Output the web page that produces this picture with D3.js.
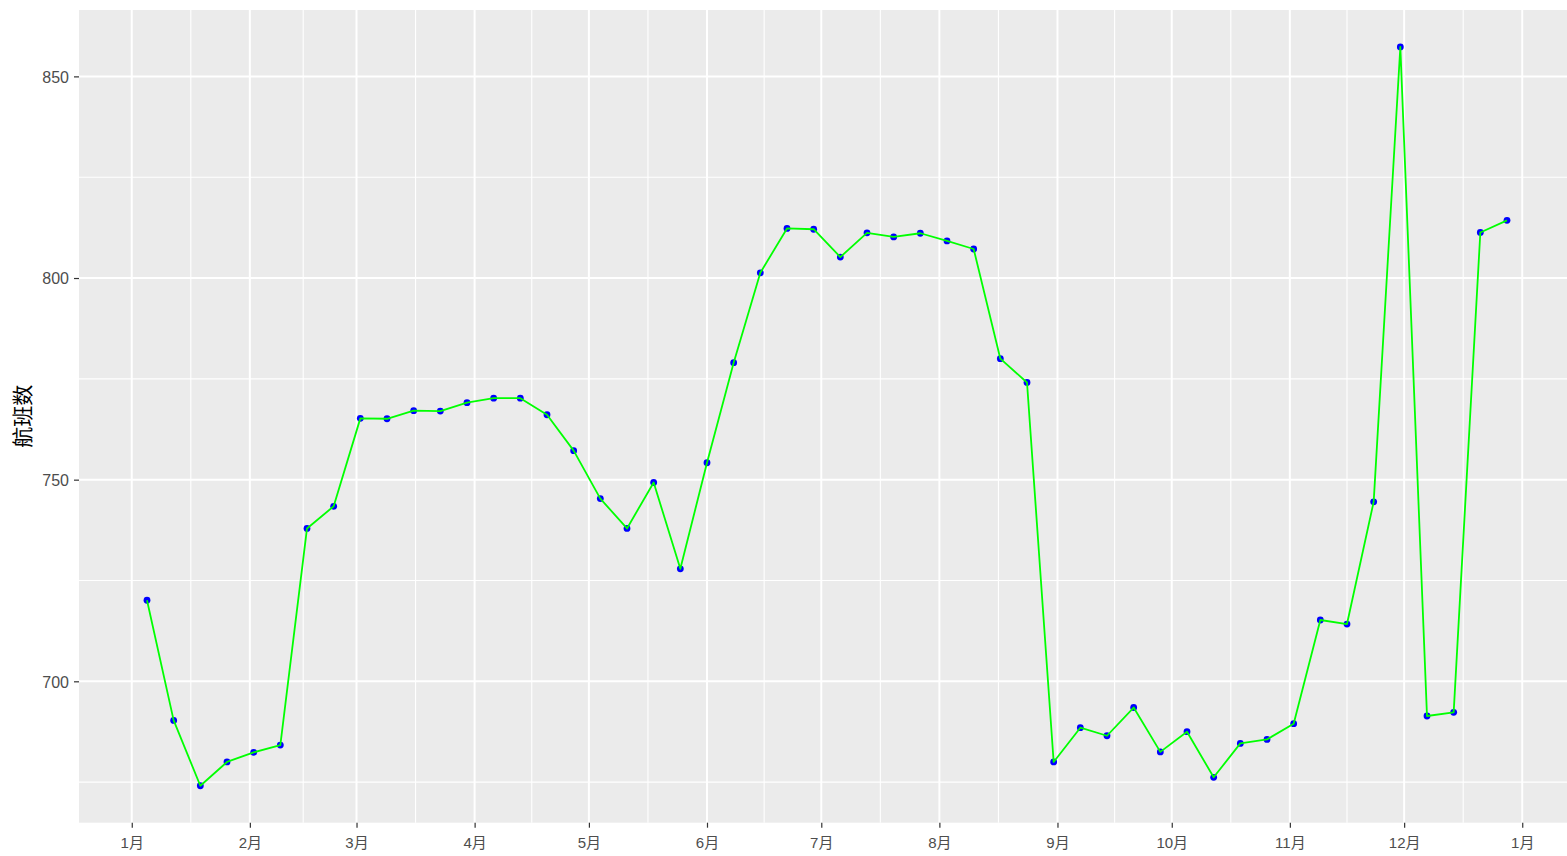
<!DOCTYPE html>
<html>
<head>
<meta charset="utf-8">
<script src="https://cdn.jsdelivr.net/npm/d3@7"></script>
<style>
  html, body { margin: 0; padding: 0; background: #ffffff; overflow: hidden; }
  svg { display: block; }
  .tick-label { font-family: "Liberation Sans", "Noto Sans CJK SC", sans-serif; fill: #4D4D4D; }
</style>
</head>
<body>
<svg id="chart" width="1567" height="856"></svg>
<script>
// Weekly flight counts (航班数), one point per week
const weeks = [
  "2019-01-05","2019-01-12","2019-01-19","2019-01-26","2019-02-02","2019-02-09","2019-02-16","2019-02-23",
  "2019-03-02","2019-03-09","2019-03-16","2019-03-23","2019-03-30","2019-04-06","2019-04-13","2019-04-20",
  "2019-04-27","2019-05-04","2019-05-11","2019-05-18","2019-05-25","2019-06-01","2019-06-08","2019-06-15",
  "2019-06-22","2019-06-29","2019-07-06","2019-07-13","2019-07-20","2019-07-27","2019-08-03","2019-08-10",
  "2019-08-17","2019-08-24","2019-08-31","2019-09-07","2019-09-14","2019-09-21","2019-09-28","2019-10-05",
  "2019-10-12","2019-10-19","2019-10-26","2019-11-02","2019-11-09","2019-11-16","2019-11-23","2019-11-30",
  "2019-12-07","2019-12-14","2019-12-21","2019-12-28"
];
const flights = [
  720.1, 690.3, 674.1, 680.0, 682.4, 684.2, 737.9, 743.4,
  765.2, 765.1, 767.1, 767.0, 769.1, 770.2, 770.2, 766.1,
  757.2, 745.3, 737.9, 749.3, 727.9, 754.2, 779.0, 801.3,
  812.3, 812.1, 805.2, 811.2, 810.2, 811.1, 809.2, 807.2,
  780.0, 774.1, 680.0, 688.5, 686.5, 693.5, 682.5, 687.5,
  676.2, 684.6, 685.6, 689.5, 715.2, 714.2, 744.5, 857.3,
  691.4, 692.3, 811.3, 814.3
];
// Month breaks on the x axis and their labels
const monthBreaks = [
  "2019-01-01","2019-02-01","2019-03-01","2019-04-01","2019-05-01","2019-06-01","2019-07-01",
  "2019-08-01","2019-09-01","2019-10-01","2019-11-01","2019-12-01","2020-01-01"
];
const monthLabels = ["1月","2月","3月","4月","5月","6月","7月","8月","9月","10月","11月","12月","1月"];
const yBreaks = [700, 750, 800, 850];
const yMinorBreaks = [675, 725, 775, 825];
const yTitle = "航班数";

const parse = d3.timeParse("%Y-%m-%d");
const data = weeks.map((w, i) => ({ date: parse(w), value: flights[i] }));
const majorDates = monthBreaks.map(parse);
// minor breaks sit halfway between consecutive month breaks
const minorDates = d3.pairs(majorDates).map(([a, b]) => new Date((+a + +b) / 2));

const panel = { left: 79, top: 10, right: 1575, bottom: 822.7 };

// continuous scales padded by 5% of the data range on each side
function expand(ext) {
  const pad = (ext[1] - ext[0]) * 0.05;
  return [ext[0] - pad, ext[1] + pad];
}
const xExt = d3.extent(data, d => +d.date);
const xDom = expand(xExt).map(t => new Date(t));
const x = d3.scaleTime().domain(xDom).range([panel.left, panel.right]);
const y = d3.scaleLinear().domain(expand(d3.extent(flights))).range([panel.bottom, panel.top]);

const svg = d3.select("#chart");

// panel background
svg.append("rect")
  .attr("x", panel.left).attr("y", panel.top)
  .attr("width", panel.right - panel.left).attr("height", panel.bottom - panel.top)
  .attr("fill", "#EBEBEB");

const grid = svg.append("g");
// minor grid
grid.selectAll(".ymin").data(yMinorBreaks).join("line")
  .attr("x1", panel.left).attr("x2", panel.right)
  .attr("y1", d => y(d)).attr("y2", d => y(d))
  .attr("stroke", "#FFFFFF").attr("stroke-width", 1.1);
grid.selectAll(".xmin").data(minorDates).join("line")
  .attr("x1", d => x(d)).attr("x2", d => x(d))
  .attr("y1", panel.top).attr("y2", panel.bottom)
  .attr("stroke", "#FFFFFF").attr("stroke-width", 1.1);
// major grid
grid.selectAll(".ymaj").data(yBreaks).join("line")
  .attr("x1", panel.left).attr("x2", panel.right)
  .attr("y1", d => y(d)).attr("y2", d => y(d))
  .attr("stroke", "#FFFFFF").attr("stroke-width", 2);
grid.selectAll(".xmaj").data(majorDates).join("line")
  .attr("x1", d => x(d)).attr("x2", d => x(d))
  .attr("y1", panel.top).attr("y2", panel.bottom)
  .attr("stroke", "#FFFFFF").attr("stroke-width", 2);

// points, then the connecting line on top
svg.append("g").selectAll("circle").data(data).join("circle")
  .attr("cx", d => x(d.date)).attr("cy", d => y(d.value))
  .attr("r", 3.4).attr("fill", "#0000FF");

svg.append("path").datum(data)
  .attr("d", d3.line().x(d => x(d.date)).y(d => y(d.value)))
  .attr("fill", "none").attr("stroke", "#00FF00").attr("stroke-width", 1.8)
  .attr("stroke-linejoin", "round");

// y axis
const yAxis = d3.axisLeft(y).tickValues(yBreaks).tickSize(5).tickPadding(5).tickFormat(d3.format("d"));
const gy = svg.append("g").attr("transform", `translate(${panel.left},0)`).call(yAxis);
gy.select(".domain").remove();
gy.selectAll(".tick line").attr("stroke", "#333333").attr("stroke-width", 1.2);
gy.selectAll(".tick text").attr("class", "tick-label").attr("font-size", 16).attr("dy", "0.36em");

// x axis
const xAxis = d3.axisBottom(x).tickValues(majorDates).tickSize(5).tickPadding(10)
  .tickFormat((d, i) => monthLabels[i]);
const gx = svg.append("g").attr("transform", `translate(0,${panel.bottom})`).call(xAxis);
gx.select(".domain").remove();
gx.selectAll(".tick line").attr("stroke", "#333333").attr("stroke-width", 1.2);
gx.selectAll(".tick text").attr("class", "tick-label").attr("font-size", 15);

// y axis title
svg.append("text")
  .attr("transform", `translate(30,${(panel.top + panel.bottom) / 2}) rotate(-90)`)
  .attr("text-anchor", "middle")
  .attr("font-family", "Noto Sans CJK SC, sans-serif")
  .attr("font-size", 21)
  .attr("fill", "#000000")
  .text(yTitle);
</script>
</body>
</html>
